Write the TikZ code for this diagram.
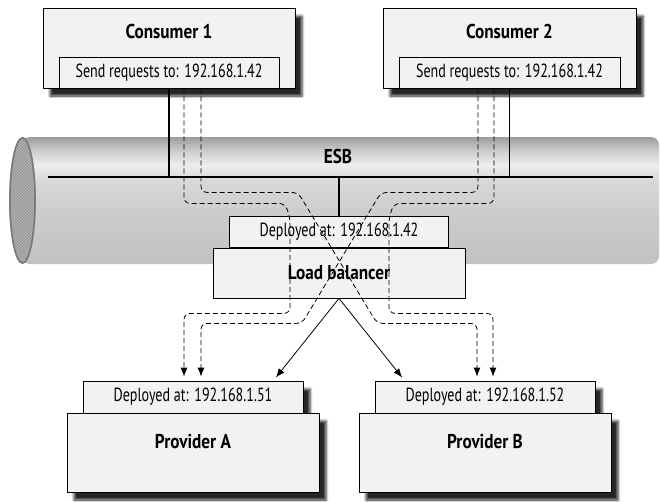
\documentclass[tikz,border=0pt]{standalone}
\usepackage{fontspec}
\setmainfont{PT Sans}[FakeStretch=0.74,BoldFeatures={FakeStretch=0.86}]
\usetikzlibrary{positioning,shadows.blur,patterns,arrows.meta}

\definecolor{boxfill}{RGB}{241,242,244}
% tube shading: 25bp = bottom of the bus, 75bp = top of the bus
\pgfdeclareverticalshading{esbtube}{100bp}{%
  color(0bp)=(black!24); color(25bp)=(black!24); color(45bp)=(black!20);
  color(58bp)=(black!15); color(64bp)=(black!7); color(69bp)=(black!18);
  color(75bp)=(black!38); color(100bp)=(black!38)}

\begin{document}
\begin{tikzpicture}[
    x=1pt, y=-1pt, % one unit = one pixel of the sketch, y runs downwards
    >={Latex[length=9pt,width=7pt]},
    % Box style: grey fill, thin frame, text size
    box/.style={draw,line width=0.8pt,fill=boxfill,inner sep=0pt,font=\fontsize{19}{22}\selectfont},
    % Title style: bold
    title/.style={font=\bfseries\fontsize{20}{23}\selectfont,inner sep=0pt},
    % Drop shadow: adjust offset / blur
    drop/.style={blur shadow={shadow xshift=7pt,shadow yshift=-8pt,shadow blur radius=2.5pt,shadow opacity=85}},
    bus/.style={line width=1.7pt},
    flow/.style={->,line width=0.8pt,dash pattern=on 5pt off 3pt,rounded corners=6pt,shorten >=4pt},
    call/.style={->,line width=0.8pt,shorten >=4pt}
]
\useasboundingbox (0,0) rectangle (660,501);

% ==============================
% TUNING KNOBS
% ==============================
\def\yTop{137}  % top of the bus
\def\yBot{264}  % bottom of the bus
\def\yBus{177}  % bus line
\def\gap{\hspace{0.3em}} % space after the colon

% ==============================
% ESB TUBE
% ==============================
\shade[shading=esbtube,rounded corners=8pt] (22,\yTop) rectangle (659,\yBot);
\fill[black!40] (22.5,200.5) ellipse [x radius=13.5pt, y radius=63.5pt];
\fill[pattern=north east lines,pattern color=black!26] (22.5,200.5) ellipse [x radius=13.5pt, y radius=63.5pt];
\draw[black!52,line width=1.6pt] (22.5,200.5) ellipse [x radius=12.5pt, y radius=62.5pt];

\coordinate (busL) at (48,\yBus);
\coordinate (busR) at (653,\yBus);
\draw[bus] (busL) -- (busR);
\node[title] (esb) at (338,156) {ESB};

% ==============================
% CONSUMERS (top row)
% ==============================
\node[box,drop,minimum width=252pt,minimum height=80pt] (C1) at (169,48) {};
\node[title] (C1t) at ([yshift=-24pt]C1.north) {Consumer 1};
\node[box,anchor=south,minimum width=220pt,minimum height=31pt] (C1in) at (C1.south) {Send requests to:\gap 192.168.1.42};

\node[box,drop,minimum width=253pt,minimum height=80pt] (C2) at (509.5,48) {};
\node[title] (C2t) at ([yshift=-24pt]C2.north) {Consumer 2};
\node[box,anchor=south,minimum width=221pt,minimum height=31pt] (C2in) at (C2.south) {Send requests to:\gap 192.168.1.42};

% ==============================
% LOAD BALANCER (on the bus)
% ==============================
\node[box,minimum width=252pt,minimum height=50pt] (LB) at (339,273) {\bfseries\fontsize{20}{23}\selectfont Load balancer};
\node[box,anchor=south,minimum width=219pt,minimum height=31pt] (LBdep) at (LB.north) {Deployed at:\gap 192.168.1.42};

% ==============================
% PROVIDERS (bottom row)
% ==============================
\node[box,drop,minimum width=220pt,minimum height=32pt] (PAdep) at (193,397) {Deployed at:\gap 192.168.1.51};
\node[box,drop,minimum width=252pt,minimum height=79pt] (PA) at (193,452.5) {};
\node[title] (PAt) at ([yshift=-29pt]PA.north) {Provider A};

\node[box,drop,minimum width=220pt,minimum height=32pt] (PBdep) at (485,397) {Deployed at:\gap 192.168.1.52};
\node[box,drop,minimum width=252pt,minimum height=79pt] (PB) at (485,452.5) {};
\node[title] (PBt) at ([yshift=-29pt]PB.north) {Provider B};

% arrow ends on the providers
\coordinate (pa1) at ([xshift=-9pt]PAdep.north);
\coordinate (pa2) at ([xshift=8pt]PAdep.north);
\coordinate (pb1) at ([xshift=-8pt]PBdep.north);
\coordinate (pb2) at ([xshift=8pt]PBdep.north);

% ==============================
% BUS TAPS (solid)
% ==============================
\draw[bus] (C1in.south) -- (C1in.south |- busL);
\draw[bus] (C2in.south) -- (C2in.south |- busR);
\draw[bus] (LBdep.north |- busL) -- (LBdep.north);

% ==============================
% REQUEST ROUTES (dashed)
% ==============================
\draw[flow] ([xshift=15pt]C1in.south) -- ++(0,115) -- ++(101,0) -- ++(5,14) -- ++(0,96) -| (pa1);
\draw[flow] ([xshift=32pt]C1in.south) -- ++(0,104) -- ++(97,0) -- ++(79,131) -| (pb1);
\draw[flow] ([xshift=-31.5pt]C2in.south) -- ++(0,104) -- ++(-97,0) -- ++(-79,131) -| (pa2);
\draw[flow] ([xshift=-15.5pt]C2in.south) -- ++(0,115) -- ++(-100,0) -- ++(-5,14) -- ++(0,96) -| (pb2);

% LOAD BALANCER -> PROVIDERS
\draw[call] (LB.south) -- ([xshift=-30pt]PAdep.north east);
\draw[call] (LB.south) -- ([xshift=30pt]PBdep.north west);
\end{tikzpicture}
\end{document}
